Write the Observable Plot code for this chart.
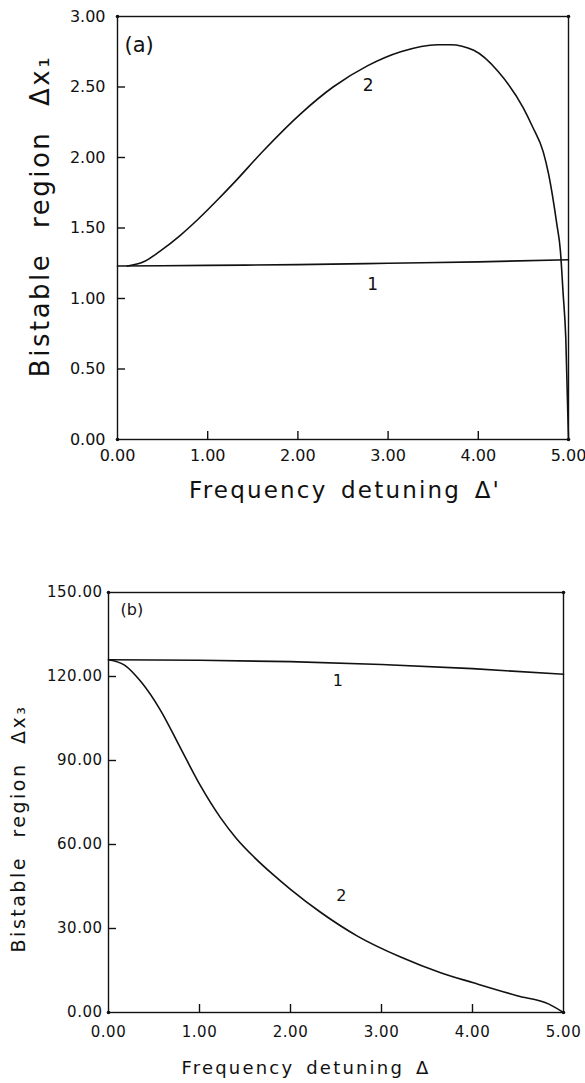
<!DOCTYPE html>
<html><head><meta charset="utf-8">
<script src="https://cdn.jsdelivr.net/npm/d3@7"></script>
<script src="https://cdn.jsdelivr.net/npm/@observablehq/plot@0.6"></script>
<style>body{margin:0;background:#fff;} svg{display:block;} #chart{width:585px;}</style>
</head><body><div id="chart"></div>
<script>
// ---- data ----
const xDomain = [0, 5];
const xTicks = [0, 1, 2, 3, 4, 5];
const yDomainA = [0, 3];
const yTicksA = [0, 0.5, 1, 1.5, 2, 2.5, 3];
const yDomainB = [0, 150];
const yTicksB = [0, 30, 60, 90, 120, 150];

// panel (a)
const a1x = [0, 1, 2, 3, 4, 5];
const a1y = [1.23, 1.235, 1.24, 1.25, 1.26, 1.275];
const a2x = [0.11, 0.29, 0.48, 0.70, 0.89, 1.11, 1.29, 1.62, 2.03, 2.39, 2.77, 3.14, 3.55, 3.69, 3.95, 4.22, 4.50, 4.60, 4.72, 4.78, 4.83, 4.87, 4.91, 4.94, 4.97, 5.0];
const a2y = [1.23, 1.26, 1.34, 1.45, 1.56, 1.70, 1.82, 2.05, 2.31, 2.50, 2.65, 2.75, 2.80, 2.80, 2.76, 2.61, 2.35, 2.22, 2.04, 1.88, 1.70, 1.53, 1.34, 1.04, 0.72, 0.0];
const aLabels = ["1", "2"];
const aLabelX = [2.83, 2.78];
const aLabelY = [1.10, 2.51];

// panel (b)
const b1x = [0, 1, 2, 3, 4, 5];
const b1y = [126, 125.8, 125.3, 124.3, 122.8, 120.8];
const b2x = [0, 0.18, 0.36, 0.57, 0.79, 1.01, 1.23, 1.41, 1.6, 1.8, 2.0, 2.33, 2.74, 3.21, 3.65, 4.01, 4.49, 4.84, 5.0];
const b2y = [126, 124, 118, 108, 94.5, 81, 69.6, 62, 55.5, 49.5, 44, 35.8, 27.2, 19.8, 14.2, 10.6, 6, 3, 0];
const bLabels = ["1", "2"];
const bLabelX = [2.52, 2.56];
const bLabelY = [118.6, 41.8];

const FONT = "DejaVu Sans";
const ink = "#111";
const TICK_PX = 8;

function panel(o) {
  const series = [
    o.s1x.map((x, i) => ({x, y: o.s1y[i]})),
    o.s2x.map((x, i) => ({x, y: o.s2y[i]}))
  ];
  const labels = o.labels.map((t, i) => ({t, x: o.labelX[i], y: o.labelY[i]}));
  const corners = [];
  for (const x of o.xDomain) for (const y of o.yDomain) corners.push({x, y});
  const plotW = 585 - o.ml - o.mr, plotH = o.height - o.mt - o.mb;
  const xLen = TICK_PX / plotW * (o.xDomain[1] - o.xDomain[0]);
  const yLen = TICK_PX / plotH * (o.yDomain[1] - o.yDomain[0]);
  const svg = Plot.plot({
    width: 585,
    height: o.height,
    marginLeft: o.ml, marginRight: o.mr, marginTop: o.mt, marginBottom: o.mb,
    x: {domain: o.xDomain},
    y: {domain: o.yDomain},
    style: {fontFamily: FONT, color: ink, background: "#fff"},
    marks: [
      Plot.frame({stroke: ink, strokeWidth: 1.4}),
      Plot.dot(corners, {x: "x", y: "y", r: 1.8, fill: ink}),
      Plot.axisX(o.xTicks, {tickSize: 0, tickPadding: o.xPad, tickFormat: d3.format(".2f"), fontSize: o.tickFont, label: null}),
      Plot.axisY(o.yTicks, {tickSize: 0, tickPadding: o.yPad, tickFormat: d3.format(".2f"), fontSize: o.tickFont, label: null}),
      Plot.ruleX(o.xTicks.slice(1, -1), {x: d => d, y1: o.yDomain[0], y2: o.yDomain[0] + yLen, stroke: ink, strokeWidth: 1.4}),
      Plot.ruleY(o.yTicks.slice(1, -1), {y: d => d, x1: o.xDomain[0], x2: o.xDomain[0] + xLen, stroke: ink, strokeWidth: 1.4}),
      Plot.line(series[0], {x: "x", y: "y", stroke: ink, strokeWidth: 1.6, curve: "monotone-x"}),
      Plot.line(series[1], {x: "x", y: "y", stroke: ink, strokeWidth: 1.6, curve: "monotone-x"}),
      Plot.text(labels, {x: "x", y: "y", text: "t", fontSize: o.labelFont, fill: ink}),
      Plot.text([o.tag], {frameAnchor: "top-left", textAnchor: "start", lineAnchor: "middle", dx: o.tagDx, dy: o.tagDy, fontSize: o.tagFont, fill: ink}),
      Plot.text([o.xTitle], {frameAnchor: "bottom", textAnchor: "middle", lineAnchor: "middle", dx: o.xtDx, dy: o.xtDy, fontSize: o.xtFont, fill: ink}),
      Plot.text([o.yTitle], {frameAnchor: "left", textAnchor: "middle", lineAnchor: "middle", rotate: -90, dx: o.ytDx, dy: o.ytDy, fontSize: o.ytFont, fill: ink})
    ]
  });
  svg.querySelectorAll("text").forEach(t => {
    const s = t.textContent;
    if (s === o.xTitle) { t.style.letterSpacing = o.xtLS; t.style.wordSpacing = o.xtWS; }
    else if (s === o.yTitle) { t.style.letterSpacing = o.ytLS; t.style.wordSpacing = o.ytWS; }
    else if (/^\d+\.\d\d$/.test(s)) { t.style.letterSpacing = o.tickLS; }
  });
  return svg;
}

const root = document.getElementById("chart");
root.append(panel({
  height: 505, ml: 117, mr: 17, mt: 16, mb: 66,
  xDomain, yDomain: yDomainA, xTicks, yTicks: yTicksA,
  s1x: a1x, s1y: a1y, s2x: a2x, s2y: a2y,
  labels: aLabels, labelX: aLabelX, labelY: aLabelY, labelFont: 17,
  tickFont: 16, tickLS: "0px", xPad: 10, yPad: 12,
  tag: "(a)", tagDx: 7, tagDy: 29, tagFont: 21,
  xTitle: "Frequency detuning Δ'", xtDx: 2, xtDy: 51, xtFont: 23, xtLS: "2.2px", xtWS: "4px",
  yTitle: "Bistable region Δx₁", ytDx: -77, ytDy: -12, ytFont: 26, ytLS: "2.5px", ytWS: "14px"
}));
root.append(panel({
  height: 578, ml: 108, mr: 22, mt: 87, mb: 71,
  xDomain, yDomain: yDomainB, xTicks, yTicks: yTicksB,
  s1x: b1x, s1y: b1y, s2x: b2x, s2y: b2y,
  labels: bLabels, labelX: bLabelX, labelY: bLabelY, labelFont: 16,
  tickFont: 15, tickLS: "0.5px", xPad: 14, yPad: 6,
  tag: "(b)", tagDx: 12, tagDy: 17, tagFont: 16,
  xTitle: "Frequency detuning Δ", xtDx: -30, xtDy: 56, xtFont: 18, xtLS: "2.2px", xtWS: "4px",
  yTitle: "Bistable region Δx₃", ytDx: -90, ytDy: 26, ytFont: 19, ytLS: "2.5px", ytWS: "10px"
}));
</script>
</body></html>
